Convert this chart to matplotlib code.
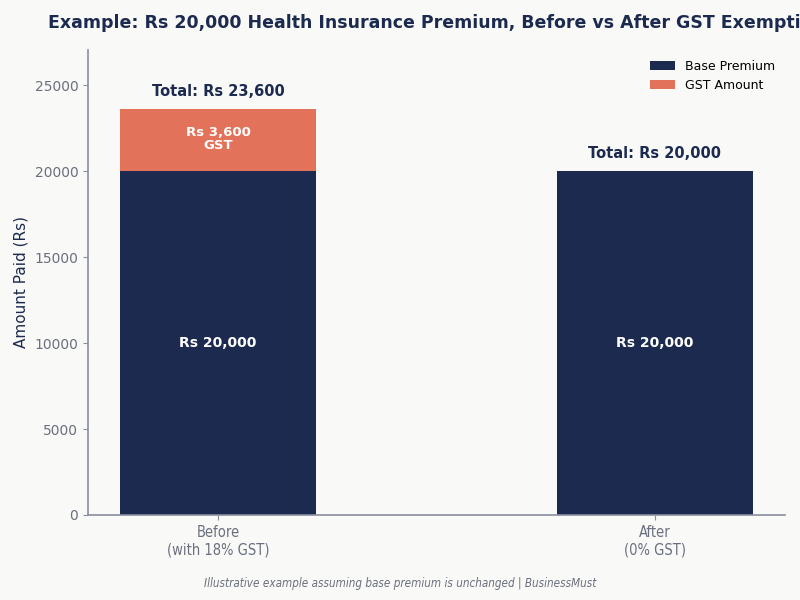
import matplotlib
matplotlib.use("Agg")
import matplotlib.pyplot as plt
import numpy as np

categories = ["Before\n(with 18% GST)", "After\n(0% GST)"]
base_premium = [20000, 20000]
gst_amount = [3600, 0]
base_label = "Base Premium"
gst_label = "GST Amount"

NAVY = "#1b2a4e"
ORANGE = "#e2725a"
BG = "#f9f9f7"
GRAY = "#6b6f7e"

fig = plt.figure(figsize=(8, 6), dpi=100, facecolor=BG)
ax = fig.add_axes([0.11, 0.1417, 0.871, 0.775])
ax.set_facecolor(BG)

x = np.arange(len(categories))
w = 0.45
ax.bar(x, base_premium, w, color=NAVY, label=base_label)
ax.bar(x, gst_amount, w, bottom=base_premium, color=ORANGE, label=gst_label)

totals = [b + g for b, g in zip(base_premium, gst_amount)]
ax.set_ylim(0, 27050)

for i in range(len(categories)):
    ax.text(x[i], base_premium[i] / 2, f"Rs {base_premium[i]:,}", ha="center", va="center",
            color="white", fontsize=10, fontweight="bold")
    if gst_amount[i] > 0:
        ax.text(x[i], base_premium[i] + gst_amount[i] / 2 + 80, f"Rs {gst_amount[i]:,}\nGST",
                ha="center", va="center", color="white", fontsize=9.5, fontweight="bold",
                linespacing=1.0)
    ax.text(x[i], totals[i] + 600, f"Total: Rs {totals[i]:,}", ha="center", va="bottom",
            color=NAVY, fontsize=10.5, fontweight="bold")

ax.set_xticks(x)
ax.set_xticklabels(categories, fontsize=10.5, color=GRAY, fontstretch="condensed")
ax.tick_params(axis="y", labelsize=10, labelcolor=GRAY, color="#8a8fa0")
ax.tick_params(axis="x", color="#8a8fa0")
ax.set_ylabel("Amount Paid (Rs)", fontsize=11, color=NAVY)

for s in ["top", "right"]:
    ax.spines[s].set_visible(False)
for s in ["left", "bottom"]:
    ax.spines[s].set_color("#8a8fa0")
    ax.spines[s].set_linewidth(1.2)

ax.set_title("Example: Rs 20,000 Health Insurance Premium, Before vs After GST Exemption",
             fontsize=12.5, fontweight="bold", color=NAVY, pad=16)

ax.legend(loc="upper right", frameon=False, fontsize=9, borderaxespad=0.4)

fig.text(0.5, 0.027, "Illustrative example assuming base premium is unchanged | BusinessMust",
         ha="center", va="center", fontsize=8.4, style="italic", color=GRAY,
         fontstretch="condensed")

fig.savefig("out.png", dpi=100, facecolor=BG)
